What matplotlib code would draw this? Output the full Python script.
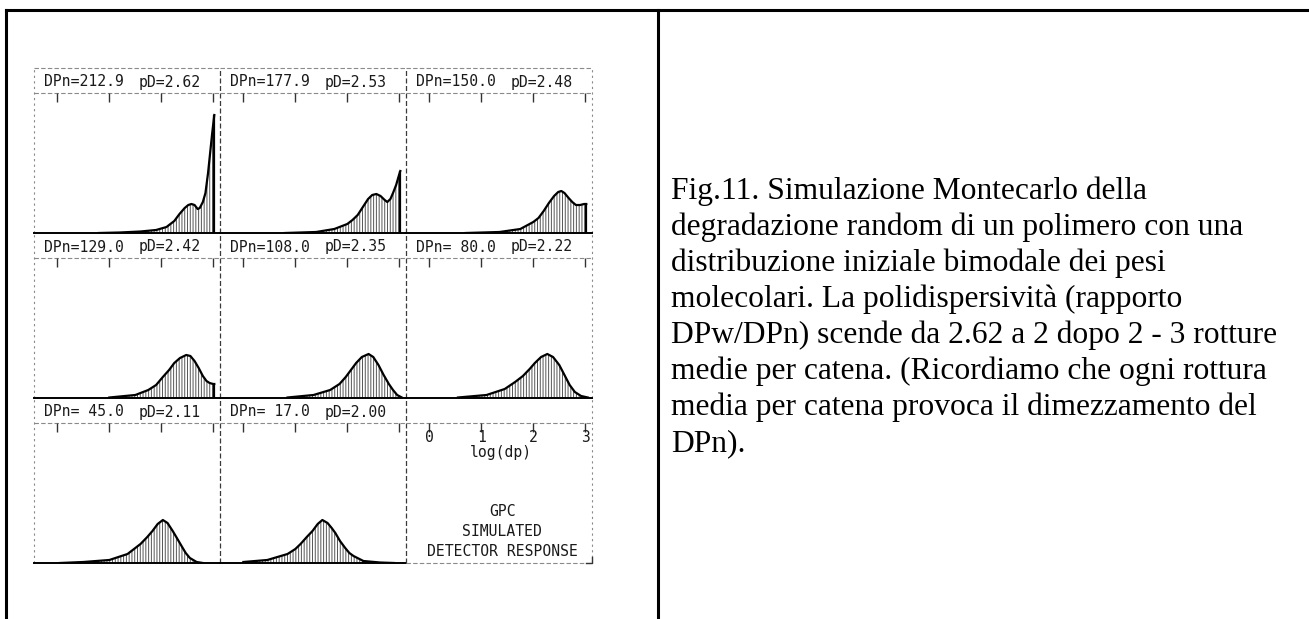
import matplotlib.pyplot as plt
from matplotlib.lines import Line2D

W, H = 1309, 619
fig = plt.figure(figsize=(W / 100, H / 100), dpi=100)
plt.rcParams['hatch.linewidth'] = 0.7

dpn = [212.9, 177.9, 150.0, 129.0, 108.0, 80.0, 45.0, 17.0]
pdisp = [2.62, 2.53, 2.48, 2.42, 2.35, 2.22, 2.11, 2.00]

# simulated detector response vs log(dp)
x1 = [0.8, 1.2, 1.6, 1.9, 2.1, 2.25, 2.35, 2.45, 2.52, 2.58, 2.64, 2.70, 2.74, 2.80, 2.85, 2.90, 2.94, 2.98, 3.02]
y1 = [0, 0.5, 1.5, 3, 6, 12, 19, 25, 28, 29, 28, 24, 25, 31, 40, 60, 80, 100, 118]
x2 = [0.8, 1.4, 1.75, 2.0, 2.1, 2.2, 2.3, 2.4, 2.48, 2.56, 2.64, 2.72, 2.77, 2.83, 2.88, 2.94, 2.99, 3.02]
y2 = [0, 1, 4, 9, 13, 18, 26, 34, 38, 39, 37, 33, 31, 34, 40, 48, 57, 62]
x3 = [0.7, 1.35, 1.75, 2.0, 2.1, 2.2, 2.3, 2.4, 2.48, 2.54, 2.6, 2.68, 2.75, 2.82, 2.9, 2.98, 3.02]
y3 = [0, 1, 4, 11, 15, 22, 30, 37, 41, 42, 40, 35, 31, 28, 28, 29, 29]
x4 = [1.0, 1.5, 1.75, 1.9, 2.03, 2.15, 2.25, 2.36, 2.48, 2.56, 2.64, 2.72, 2.8, 2.87, 2.93, 3.0, 3.02]
y4 = [0.5, 3, 8, 13, 21, 28, 35, 40, 43, 42, 37, 30, 22, 17, 15, 14, 14]
x5 = [0.85, 1.35, 1.67, 1.85, 1.97, 2.07, 2.17, 2.28, 2.41, 2.5, 2.6, 2.7, 2.8, 2.88, 2.96, 3.05]
y5 = [0.5, 3, 8, 14, 21, 28, 35, 41, 44, 41, 33, 23, 14, 8, 3, 0.5]
x6 = [0.55, 1.1, 1.45, 1.65, 1.8, 1.93, 2.03, 2.15, 2.27, 2.38, 2.5, 2.6, 2.7, 2.8, 2.92, 3.05]
y6 = [0.5, 3, 9, 16, 22, 29, 35, 41, 44, 41, 33, 23, 13, 6, 2, 0.5]
x7 = [0.05, 0.5, 1.0, 1.35, 1.6, 1.73, 1.83, 1.93, 2.03, 2.12, 2.22, 2.3, 2.39, 2.47, 2.55, 2.68, 2.8]
y7 = [0, 1, 3, 9, 19, 26, 32, 39, 43, 40, 32, 25, 17, 10, 5, 1, 0]
x8 = [0.0, 0.46, 0.85, 1.0, 1.1, 1.22, 1.33, 1.43, 1.52, 1.62, 1.7, 1.77, 1.86, 1.96, 2.04, 2.12, 2.31, 2.63, 2.9]
y8 = [1, 3, 9, 14, 19, 26, 32, 39, 43, 40, 35, 30, 22, 15, 10, 7, 2, 0.5, 0]
curves = [(x1, y1), (x2, y2), (x3, y3), (x4, y4), (x5, y5), (x6, y6), (x7, y7), (x8, y8)]

log_ticks = [0, 1, 2, 3]
legend_lines = ['GPC', 'SIMULATED', 'DETECTOR RESPONSE']

caption = [
    'Fig.11. Simulazione Montecarlo della',
    'degradazione random di un polimero con una',
    'distribuzione iniziale bimodale dei pesi',
    'molecolari. La polidispersività (rapporto',
    'DPw/DPn) scende da 2.62 a 2 dopo 2 - 3 rotture',
    'medie per catena. (Ricordiamo che ogni rottura',
    'media per catena provoca il dimezzamento del',
    'DPn).',
]


def px_line(xa, ya, xb, yb, **kw):
    fig.add_artist(Line2D([xa / W, xb / W], [1 - ya / H, 1 - yb / H],
                          transform=fig.transFigure, **kw))


# table borders
px_line(6, 10, W, 10, color='black', lw=2.2)
px_line(6, 10, 6, H, color='black', lw=2.2)
px_line(658, 10, 658, H, color='black', lw=2.2)

PX, PY, PW, PH = 34, 68, 186, 165
mono = 'DejaVu Sans Mono'
dash = (0, (4, 2))
dots = (0, (2, 3))
faint = '#8a8a8a'
ink = '#1a1a1a'

for i in range(9):
    r, c = divmod(i, 3)
    ax = fig.add_axes([(PX + c * PW) / W, 1 - (PY + (r + 1) * PH) / H, PW / W, PH / H])
    ax.set_xlim(-0.45, 3.13)
    ax.set_ylim(0, 165)
    ax.axis('off')

    # panel frame: inner dividers darker, outer edges dotted and faint
    if c == 0:
        ax.axvline(-0.45, color=faint, lw=0.8, ls=dots, clip_on=False)
    else:
        ax.axvline(-0.45, color='#3a3a3a', lw=0.9, ls=dash, clip_on=False)
    if c == 2:
        ax.axvline(3.13, color=faint, lw=0.8, ls=dots, clip_on=False)
    if r == 0:
        ax.axhline(165, color=faint, lw=0.8, ls=dash, clip_on=False)
    ax.axhline(140, color=faint, lw=0.8, ls=dash)
    ax.vlines(log_ticks, 131, 140, color='#333', lw=1.0)

    if i < 8:
        x, y = curves[i]
        ax.axhline(0, color='black', lw=1.4, clip_on=False)
        ax.fill_between(x, y, 0, facecolor='none', edgecolor='#555',
                        hatch='||||||', lw=0)
        ax.plot(x, y, color='black', lw=1.6)
        if y[-1] > 1:
            ax.vlines(x[-1], 0, y[-1], color='black', lw=1.6)
        ax.text(0.055, 151, 'DPn=%5.1f' % dpn[i], transform=ax.get_yaxis_transform(),
                family=mono, fontsize=10.6, color=ink, va='center')
        ax.text(0.565, 151, 'pD=%.2f' % pdisp[i], transform=ax.get_yaxis_transform(),
                family=mono, fontsize=10.6, color=ink, va='center')
    else:
        ax.axhline(0, color=faint, lw=0.8, ls=dash, clip_on=False)
        ax.plot([3.02, 3.13, 3.13], [0, 0, 6], color='#333', lw=1.0, clip_on=False)
        for t in log_ticks:
            ax.text(t, 125, str(t), family=mono, fontsize=10.6, color=ink,
                    ha='center', va='center')
        ax.text(1.38, 110, 'log(dp)', family=mono, fontsize=10.6, color=ink,
                ha='center', va='center')
        for k, s in enumerate(legend_lines):
            ax.text(1.4, 51 - 20 * k, s, family=mono, fontsize=10.6, color=ink,
                    ha='center', va='center')

for k, line in enumerate(caption):
    fig.text(671 / W, 1 - (199 + 36 * k) / H, line, family='Liberation Serif',
             fontsize=22.7, color='black', va='baseline', ha='left')

fig.savefig('out.png', dpi=100)
